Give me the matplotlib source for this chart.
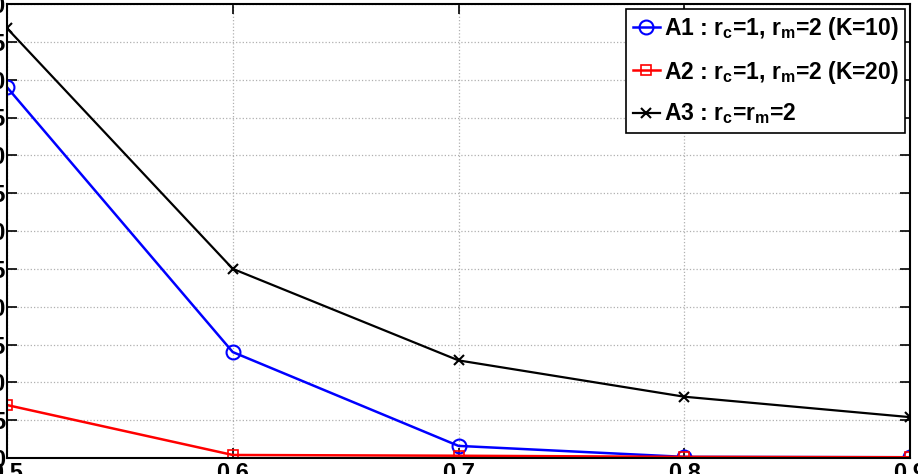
import numpy as np
import matplotlib
matplotlib.use("Agg")
import matplotlib.pyplot as plt

plt.rcParams['font.family'] = ['Liberation Sans', 'DejaVu Sans']
plt.rcParams['font.weight'] = 'bold'
plt.rcParams['mathtext.fontset'] = 'custom'
plt.rcParams['mathtext.rm'] = 'Liberation Sans:bold'
plt.rcParams['mathtext.bf'] = 'Liberation Sans:bold'
plt.rcParams['mathtext.it'] = 'Liberation Sans:bold'
plt.rcParams['mathtext.default'] = 'bf'

# data
x = [0.5, 0.6, 0.7, 0.8, 0.9]
a1 = [49.0, 14.0, 1.6, 0.15, 0.1]
a2 = [7.0, 0.4, 0.3, 0.15, 0.1]
a3 = [56.8, 25.0, 12.9, 8.1, 5.4]
labels = ['A1 : r$_c$=1, r$_m$=2 (K=10)',
          'A2 : r$_c$=1, r$_m$=2 (K=20)',
          'A3 : r$_c$=r$_m$=2']
xticks = [0.5, 0.6, 0.7, 0.8, 0.9]
yticks = np.arange(0, 61, 5)

fig = plt.figure(figsize=(9.18, 4.74), dpi=100)
ax = fig.add_axes([7/918, 16/474, 903/918, 454/474])

ax.plot(x, a1, color='blue', lw=1.8, marker='o', ms=10, mfc='none', mew=1.5, label=labels[0])
ax.plot(x, a2, color='red', lw=1.8, marker='s', ms=7, mfc='none', mew=1.2, label=labels[1])
ax.plot(x, a3, color='black', lw=1.6, marker='x', ms=7, mew=1.5, label=labels[2])

ax.set_xlim(0.5, 0.9)
ax.set_ylim(0, 60)
ax.set_xticks(xticks)
ax.set_xticklabels(['%.1f' % v for v in xticks])
ax.set_yticks(yticks)
ax.grid(True, color='#b0b0b0', linestyle=':', linewidth=0.9)
ax.tick_params(direction='in', length=7, width=1.2, labelsize=17,
               right=True, top=True)
ax.tick_params(axis='y', pad=1)
ax.tick_params(axis='x', pad=3)
for s in ax.spines.values():
    s.set_linewidth(1.5)

leg = ax.legend(loc='upper right', fontsize=16.5, handlelength=1.2, handletextpad=0.15,
                borderpad=0.3, labelspacing=0.7, fancybox=False, framealpha=1,
                borderaxespad=0.2)
leg.get_frame().set_edgecolor('black')
leg.get_frame().set_linewidth(1.2)

fig.savefig('out.png', dpi=100)
